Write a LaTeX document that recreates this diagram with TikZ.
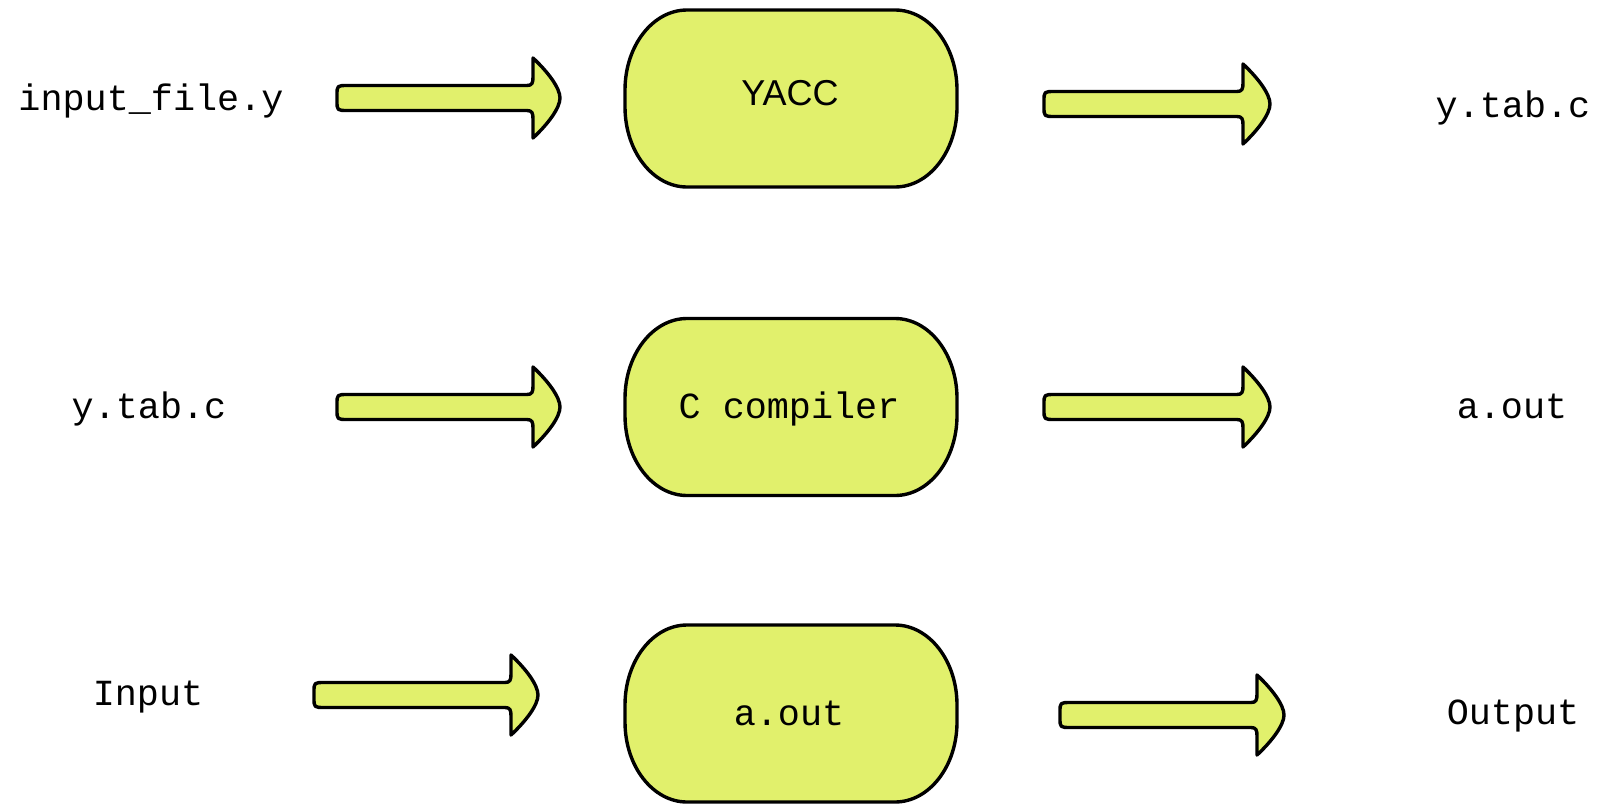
\documentclass[tikz,border=0pt]{standalone}
\usepackage{fontspec}
\setmainfont{Liberation Sans}
\newfontfamily\labelmono{Liberation Mono}
\definecolor{lime}{HTML}{E1F06C}
\begin{document}
\begin{tikzpicture}[x=1pt,y=-1pt,
  outline/.style={draw=black, line width=3.4pt, fill=lime, line join=round},
  filename/.style={anchor=base, inner sep=0pt, font=\labelmono\fontsize{36.8}{40}\selectfont},
  stagename/.style={anchor=base, inner sep=0pt, font=\fontsize{36}{40}\selectfont},
  stagemono/.style={anchor=base, inner sep=0pt, font=\labelmono\fontsize{36.8}{40}\selectfont},
  % stadium-shaped process box, centred on the pic origin
  pics/stagebox/.style={code={
    \draw[outline] (-104,-88.5) -- (104,-88.5)
      .. controls (138.2,-88.5) and (166,-52.7) .. (166,-8.5) -- (166,8.5)
      .. controls (166,52.7) and (138.2,88.5) .. (104,88.5) -- (-104,88.5)
      .. controls (-138.2,88.5) and (-166,52.7) .. (-166,8.5) -- (-166,-8.5)
      .. controls (-166,-52.7) and (-138.2,-88.5) .. (-104,-88.5) -- cycle;
  }},
  % thick block arrow pointing right, #1 = total length
  pics/fatarrow/.style={code={
    \draw[outline] (11,12.5) .. controls (0,12.5) and (0,12.5) .. (0,3) -- (0,-3)
      .. controls (0,-12.5) and (0,-12.5) .. (11,-12.5) -- (#1-33,-12.5)
      .. controls (#1-28,-12.5) and (#1-27,-15) .. (#1-27,-21) -- (#1-27,-40)
      .. controls (#1-12,-26) and (#1,-10) .. (#1,0)
      .. controls (#1,10) and (#1-12,26) .. (#1-27,40) -- (#1-27,21)
      .. controls (#1-27,15) and (#1-28,12.5) .. (#1-33,12.5) -- cycle;
  }}]
\useasboundingbox (0,0) rectangle (1602,803);

% process boxes
\coordinate (box1) at (791,98.5);
\coordinate (box2) at (791,407);
\coordinate (box3) at (791,713.5);
\pic at (box1) {stagebox};
\pic at (box2) {stagebox};
\pic at (box3) {stagebox};
\node[stagename] (yacc) at (790,105) {YACC};
\node[stagemono] (cc) at (789,418) {C compiler};
\node[stagemono] (aout) at (789,725) {a.out};

% inputs and outputs
\node[filename] (in1) at (151,110) {input\_file.y};
\node[filename] (out1) at (1513,117) {y.tab.c};
\node[filename] (in2) at (149,418) {y.tab.c};
\node[filename] (out2) at (1512,418) {a.out};
\node[filename] (in3) at (148,705) {Input};
\node[filename] (out3) at (1513,724) {Output};

% block arrows
\coordinate (r1a) at (337,98);
\coordinate (r1b) at (1044,104);
\coordinate (r2a) at (337,407);
\coordinate (r2b) at (1044,407);
\coordinate (r3a) at (314,695);
\coordinate (r3b) at (1060,715);
\pic at (r1a) {fatarrow=223};
\pic at (r1b) {fatarrow=226};
\pic at (r2a) {fatarrow=223};
\pic at (r2b) {fatarrow=226};
\pic at (r3a) {fatarrow=224};
\pic at (r3b) {fatarrow=224};
\end{tikzpicture}
\end{document}
